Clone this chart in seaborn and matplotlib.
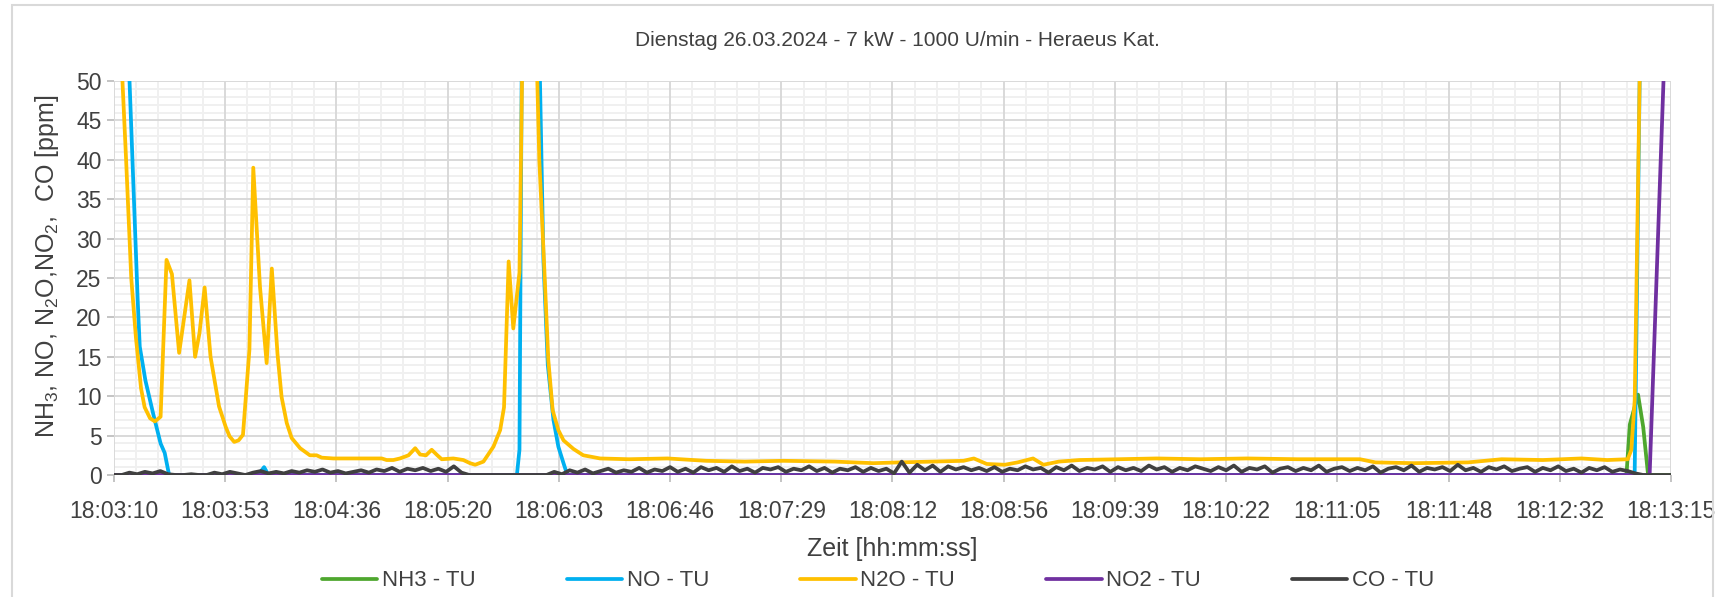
import pandas as pd
import seaborn as sns
import matplotlib.pyplot as plt
from matplotlib.patches import Rectangle
from matplotlib.ticker import MultipleLocator

title = "Dienstag 26.03.2024 - 7 kW - 1000 U/min - Heraeus Kat."
tick_labels = ["18:03:10", "18:03:53", "18:04:36", "18:05:20", "18:06:03",
               "18:06:46", "18:07:29", "18:08:12", "18:08:56", "18:09:39",
               "18:10:22", "18:11:05", "18:11:48", "18:12:32", "18:13:15"]
tick_step = 43.2  # seconds between labelled ticks

# all times in seconds after 18:03:10
nh3_sec = [0, 587.5, 588.8, 592.0, 594.0, 595.9, 606]
nh3_ppm = [0, 0, 6.4, 10.2, 6.1, 0, 0]

no_sec = [0, 5.8, 9.2, 10.0, 12.2, 15.2, 18.1, 19.7, 21.4, 56.0, 58.3, 60.0,
          156.5, 157.5, 158.8, 164.0, 166.8, 168.5, 170.7, 172.6, 174.6, 176.1,
          590.0, 590.7, 592.7, 594.0]
no_ppm = [80, 52, 22.2, 16.3, 12.0, 7.8, 4.0, 2.8, 0, 0, 1.0, 0,
          0, 3.2, 75, 75, 27.3, 14.0, 7.0, 3.6, 1.5, 0,
          0, 0.5, 52, 80]

n2o_sec = [0, 3, 4.7, 6.7, 8.5, 10.5, 11.9, 14, 15.9, 18.1, 20.4, 22.5, 25.3,
           29.3, 31.5, 33.2, 35.2, 37.5, 40.8, 43.4, 44.9, 46.7, 48.4, 50.1,
           52.6, 54.1, 56.7, 59.3, 61.3, 63.5, 65.1, 67.1, 69.0, 72.3, 76.1,
           78.7, 80.7, 85.2, 95, 104, 105.9, 108.5, 111.1, 114.4, 117, 118.9,
           121.2, 123.4, 125.6, 127.3, 131.8, 135.7, 138.3, 140.3, 143.5,
           147.4, 150, 151.5, 153.3, 155.1, 157.5, 159.5, 162.5, 165.2, 167,
           168.7, 170.4, 172.6, 174.6, 178.5, 182.3, 185.6, 188.8, 200, 215,
           230, 245, 260, 280, 295, 305, 318, 330, 334, 339, 346, 351, 357,
           361, 367, 375, 390, 405, 422, 440, 460, 484, 490, 505, 526, 539,
           555, 570, 580, 588, 589.4, 590.7, 591.3, 592.7, 594]
n2o_ppm = [75, 52, 40, 25, 17.5, 11, 8.6, 7.2, 6.8, 7.4, 27.3, 25.5, 15.5,
           24.7, 15.0, 18.0, 23.8, 15.0, 8.7, 6.1, 4.9, 4.2, 4.4, 5.1,
           15.9, 39.0, 23.9, 14.2, 26.2, 15.4, 9.9, 6.6, 4.7, 3.4, 2.5,
           2.5, 2.2, 2.1, 2.1, 2.1, 1.9, 1.9, 2.1, 2.5, 3.4, 2.6,
           2.5, 3.2, 2.5, 2.0, 2.1, 1.9, 1.5, 1.3, 1.7,
           3.6, 5.7, 8.6, 27.1, 18.6, 25.7, 75, 75, 40, 27.3,
           14.6, 8.2, 5.7, 4.4, 3.3, 2.5, 2.3, 2.1, 2.0, 2.1,
           1.8, 1.7, 1.8, 1.7, 1.5, 1.6, 1.7, 1.8, 2.1, 1.4, 1.3, 1.6, 2.1,
           1.3, 1.7, 1.9, 2.0, 2.1, 2.0, 2.1, 2.0, 2.0, 1.6, 1.5, 1.6, 2.0,
           1.9, 2.1, 1.9, 2.0, 3.2, 9.5, 22, 52, 75]

no2_sec = [0, 596.5, 603.5]
no2_ppm = [0, 0, 65]

co_ppm = [0, 0, 0.3, 0.1, 0.4, 0.2, 0.5, 0.1, 0, 0,
          0.1, 0, 0, 0.3, 0.1, 0.4, 0.2, 0, 0.3, 0.5,
          0.2, 0.4, 0.2, 0.5, 0.3, 0.6, 0.4, 0.7, 0.3, 0.5,
          0.2, 0.4, 0.6, 0.3, 0.7, 0.5, 0.9, 0.4, 0.8, 0.6,
          0.9, 0.5, 0.8, 0.4, 1.1, 0.3, 0, 0, 0, 0,
          0, 0, 0, 0, 0, 0, 0, 0.4, 0.1, 0.6,
          0.3, 0.7, 0.2, 0.5, 0.8, 0.3, 0.6, 0.4, 0.9, 0.3,
          0.7, 0.5, 1.0, 0.4, 0.8, 0.3, 1.0, 0.6, 0.9, 0.4,
          1.1, 0.5, 0.8, 0.3, 0.9, 0.7, 1.0, 0.4, 0.8, 0.6,
          1.1, 0.5, 0.9, 0.3, 0.8, 0.6, 1.0, 0.4, 0.9, 0.5,
          0.8, 0.2, 1.7, 0.3, 1.3, 0.6, 1.2, 0.4, 1.1, 0.7,
          1.0, 0.6, 0.9, 0.5, 1.0, 0.4, 0.8, 0.6, 1.1, 0.7,
          0.9, 0.3, 1.0, 0.6, 1.2, 0.5, 0.9, 0.7, 1.1, 0.4,
          1.0, 0.6, 0.9, 0.5, 1.2, 0.7, 1.0, 0.4, 0.9, 0.6,
          1.1, 0.8, 0.5, 1.0, 0.6, 1.2, 0.4, 0.9, 0.7, 1.1,
          0.3, 0.8, 1.0, 0.5, 0.9, 0.6, 1.2, 0.4, 0.8, 1.0,
          0.5, 0.9, 0.6, 1.1, 0.3, 0.8, 1.0, 0.6, 1.2, 0.4,
          0.9, 0.7, 1.0, 0.5, 1.3, 0.6, 0.9, 0.4, 1.0, 0.7,
          1.1, 0.5, 0.8, 1.0, 0.4, 0.9, 0.6, 1.1, 0.5, 0.8,
          0.3, 0.9, 0.6, 1.0, 0.4, 0.7, 0.5, 0.2, 0, 0,
          0, 0, 0]
co_sec = [3 * i for i in range(len(co_ppm))]

series = [
    ("NH3 - TU", nh3_sec, nh3_ppm, "#4EA72E"),
    ("NO - TU", no_sec, no_ppm, "#00B0F0"),
    ("N2O - TU", n2o_sec, n2o_ppm, "#FFC000"),
    ("NO2 - TU", no2_sec, no2_ppm, "#7030A0"),
    ("CO - TU", co_sec, co_ppm, "#404040"),
]

sns.set_theme(style="whitegrid")
plt.rcParams["font.family"] = ["Liberation Sans", "DejaVu Sans"]
plt.rcParams["mathtext.default"] = "regular"

fig = plt.figure(figsize=(17.24, 5.97), dpi=100)
ax = fig.add_axes([114 / 1724, 1 - 475 / 597, 1557 / 1724, 394 / 597])

for name, sec, ppm, color in series:
    df = pd.DataFrame({"sec": sec, "ppm": ppm})
    sns.lineplot(data=df, x="sec", y="ppm", ax=ax, color=color, linewidth=2.7,
                 label=name, estimator=None, sort=False, zorder=3)

x_major = [tick_step * i for i in range(len(tick_labels))]
ax.set_xlim(0, x_major[-1])
ax.set_ylim(0, 50)
ax.set_xticks(x_major)
ax.set_xticklabels(tick_labels)
ax.xaxis.set_minor_locator(MultipleLocator(tick_step / 5))
ax.yaxis.set_major_locator(MultipleLocator(5))
ax.yaxis.set_minor_locator(MultipleLocator(1))

# minor grid from the axes, major grid drawn on top of it
ax.grid(False, which="major")
ax.grid(True, which="minor", color="#F0F0F0", linewidth=1.4)
for xv in x_major:
    ax.axvline(xv, color="#D9D9D9", linewidth=1.4, zorder=1)
for yv in range(0, 51, 5):
    ax.axhline(yv, color="#D9D9D9", linewidth=1.4, zorder=1)
ax.set_axisbelow(True)
for side in ["top", "right", "left", "bottom"]:
    ax.spines[side].set_visible(False)
ax.tick_params(axis="both", which="major", labelsize=16.5, colors="#BFBFBF",
               labelcolor="#404040", length=5, width=1.3, direction="out",
               bottom=True, left=True)
ax.tick_params(axis="x", which="major", pad=13)
ax.tick_params(axis="y", which="major", pad=4)
ax.tick_params(axis="both", which="minor", length=0)

ax.set_xlabel("Zeit [hh:mm:ss]", fontsize=18, color="#404040", labelpad=10)
ax.set_ylabel(r"NH$_3$, NO, N$_2$O,NO$_2$,  CO [ppm]", fontsize=18,
              color="#404040")
ax.yaxis.set_label_coords(-0.034, 0.53)

fig.text(0.5205, 1 - 40 / 597, title, ha="center", va="center", fontsize=15,
         color="#404040")

ax.legend(loc="center", bbox_to_anchor=(878 / 1724, 1 - 581 / 597),
          bbox_transform=fig.transFigure, ncol=5, frameon=False, fontsize=16,
          handlelength=2.5, handletextpad=0.2, columnspacing=4.1,
          labelcolor="#404040")

fig.patches.append(Rectangle((12 / 1724, -0.02), 1701 / 1724, 1.02 - 5 / 597,
                             transform=fig.transFigure, fill=False,
                             edgecolor="#D9D9D9", linewidth=1.5))

fig.savefig("out.png", dpi=100)
